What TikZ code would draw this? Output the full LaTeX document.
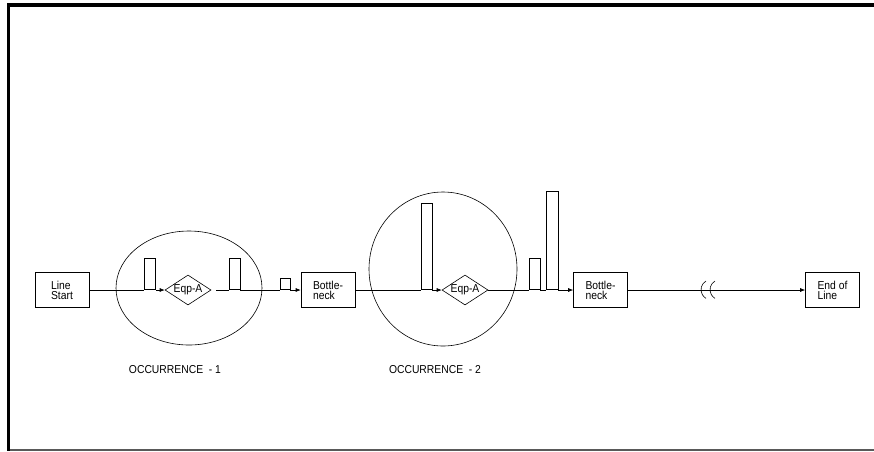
\documentclass[tikz,border=0pt]{standalone}
\usepackage{fontspec}
\setmainfont{Liberation Sans}[FakeStretch=0.9]
\usetikzlibrary{shapes.geometric,arrows.meta}

\tikzset{x=1pt, y=-1pt, every node/.append style={font=\fontsize{11.5}{10}\selectfont},
    stage/.style={draw, minimum width=54, minimum height=35, align=left, inner sep=0},
    buffer/.style={draw, minimum width=11, anchor=south, inner sep=0},
    eqp/.style={draw, diamond, minimum width=46, minimum height=30, inner sep=0},
    flow/.style={-{Latex[length=5pt,width=4pt]}}}

\begin{document}
\begin{tikzpicture}[line width=0.6pt]
                \useasboundingbox (0,0) rectangle (874,451);
                % frame
                \fill (7,3) rectangle (874,7);
                \fill (7,3) rectangle (10,451);
                \draw[black!65, line width=1.5] (10,450) -- (874,450);
                % occurrences
                \node[draw, ellipse, minimum width=146, minimum height=114, inner sep=0] (occ1) at (189,288) {};
                \node[draw, ellipse, minimum width=148, minimum height=154, inner sep=0] (occ2) at (443,269) {};
                \node (lab1) at (175,370) {OCCURRENCE \ - 1};
                \node (lab2) at (435,370) {OCCURRENCE \ - 2};
                % line
                \node[stage] (start) at (62,290) {Line\\Start};
                \node[buffer, minimum height=31] (b1) at (150,290) {};
                \node[eqp, label=center:Eqp-A] (e1) at (188,290) {};
                \node[buffer, minimum height=31] (b2) at (234.5,290) {};
                \node[buffer, minimum width=10, minimum height=11] (b3) at (285,290) {};
                \node[stage] (neck1) at (328,290) {Bottle-\\neck};
                \node[buffer, minimum height=86] (b4) at (426.5,290) {};
                \node[eqp, label=center:Eqp-A] (e2) at (465,290) {};
                \node[buffer, minimum height=31] (b5) at (534.5,290) {};
                \node[buffer, minimum width=12, minimum height=98] (b6) at (552,290) {};
                \node[stage] (neck2) at (600.5,290) {Bottle-\\neck};
                \node[stage] (lineend) at (832.5,290) {End of\\Line};
                \draw (start) -- (b1.south west);
                \draw[flow] (b1.south east) -- (e1);
                \draw[shorten <=5pt] (e1) -- (b2.south west);
                \draw (b2.south east) -- (b3.south west);
                \draw[flow] (b3.south east) -- (neck1);
                \draw (neck1) -- (b4.south west);
                \draw[flow] (b4.south east) -- (e2);
                \draw (e2) -- (b5.south west);
                \draw (b5.south east) -- (b6.south west);
                \draw[flow] (b6.south east) -- (neck2);
                \draw[flow] (neck2) -- (lineend);
                % break marks
                \draw (706,281) arc[start angle=120, end angle=240, radius=10pt];
                \draw (715,281) arc[start angle=120, end angle=240, radius=10pt];
            \end{tikzpicture}
\end{document}
